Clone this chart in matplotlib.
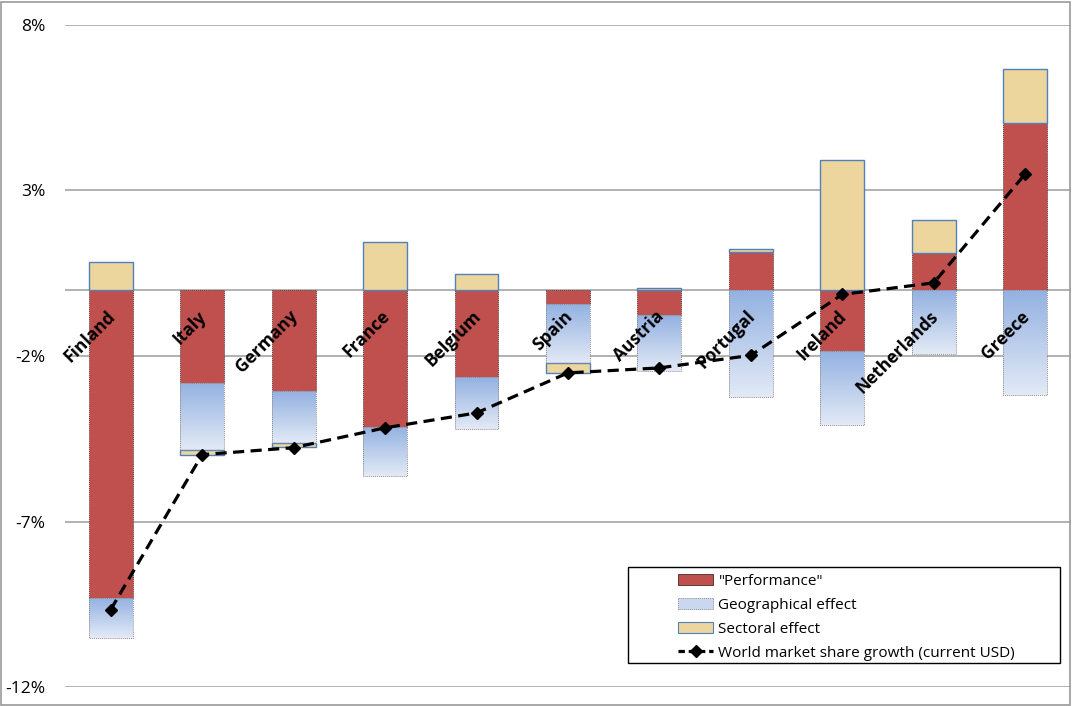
import matplotlib
matplotlib.use("Agg")
import matplotlib.pyplot as plt
import numpy as np
from matplotlib.patches import Patch, Rectangle
from matplotlib.lines import Line2D
from matplotlib.colors import LinearSegmentedColormap

countries = ["Finland", "Italy", "Germany", "France", "Belgium", "Spain",
             "Austria", "Portugal", "Ireland", "Netherlands", "Greece"]
performance = [-9.30, -2.81, -3.07, -4.14, -2.63, -0.44, -0.75, 1.14, -1.86, 1.11, 5.05]
geographical = [-1.21, -2.03, -1.55, -1.49, -1.57, -1.76, -1.69, -3.23, -2.22, -1.93, -3.17]
sectoral = [0.85, -0.16, -0.12, 1.44, 0.48, -0.30, 0.05, 0.10, 3.92, 1.01, 1.63]
market_share = [-9.66, -4.98, -4.77, -4.17, -3.72, -2.51, -2.36, -1.98, -0.14, 0.21, 3.50]
yticks = [-12, -7, -2, 3, 8]

plt.rcParams["font.family"] = ["Open Sans", "DejaVu Sans"]

W, H = 1072, 706
fig = plt.figure(figsize=(W / 100, H / 100), dpi=100)
ax = fig.add_axes([65 / W, 1 - 687 / H, 1 - 65 / W - 0.001, (687 - 25) / H])

x = np.arange(len(countries))
width = 0.48
red = "#C0504D"
sect_col = "#EDD69E"
blue_cmap = LinearSegmentedColormap.from_list("geo", ["#E3EAF6", "#93B1E1"])

pos_base = np.zeros(len(x))
neg_base = np.zeros(len(x))


def stack(values):
    vals = np.asarray(values, dtype=float)
    bottoms = np.where(vals >= 0, pos_base, neg_base)
    pos_base[:] = np.where(vals >= 0, pos_base + vals, pos_base)
    neg_base[:] = np.where(vals < 0, neg_base + vals, neg_base)
    return vals, bottoms


# "Performance" component
vals, bots = stack(performance)
ax.bar(x, vals, width, bottom=bots, color=red, edgecolor="#5a3a3a",
       linewidth=0.7, linestyle=(0, (1, 1)), zorder=3)

# Geographical component with a vertical gradient fill
vals, bots = stack(geographical)
grad = np.linspace(0, 1, 256).reshape(-1, 1)
geo_bars = ax.bar(x, vals, width, bottom=bots, facecolor="none",
                  edgecolor="#8a8a8a", linewidth=0.7, linestyle=(0, (1, 1)), zorder=4)
for b in geo_bars:
    x0, y0 = b.get_x(), b.get_y()
    w, h = b.get_width(), b.get_height()
    lo, hi = min(y0, y0 + h), max(y0, y0 + h)
    im = ax.imshow(grad, extent=[x0, x0 + w, lo, hi], origin="lower",
                   cmap=blue_cmap, aspect="auto", zorder=3)
    im.set_clip_path(b)

# Sectoral component
vals, bots = stack(sectoral)
ax.bar(x, vals, width, bottom=bots, color=sect_col, edgecolor="#4F81BD",
       linewidth=1.0, zorder=3)

# World market share growth
ax.plot(x, market_share, color="black", linestyle=(0, (3.5, 2)), linewidth=2.3,
        marker="D", markersize=6.5, zorder=6)

ax.set_xlim(-0.5, len(x) - 0.5)
ax.set_ylim(-12, 8)
ax.set_yticks(yticks)
ax.set_yticklabels([f"{v}%" for v in yticks], fontsize=12.5)
ax.tick_params(axis="y", length=0, pad=14)
ax.set_xticks([])
for s in ax.spines.values():
    s.set_visible(False)
ax.yaxis.grid(True, color="#ABABAB", linewidth=1.3, zorder=0)
ax.set_axisbelow(True)
ax.axhline(0, color="#ABABAB", linewidth=1.3, zorder=1)

for i, name in enumerate(countries):
    ax.text(i + 0.02, -0.72, name, rotation=45, rotation_mode="anchor",
            ha="right", va="center", fontsize=12.5, fontweight="bold", zorder=7)

handles = [
    Patch(facecolor=red, edgecolor="#5a3a3a", linewidth=0.7),
    Patch(facecolor="#C9D7EF", edgecolor="#8a8a8a", linewidth=0.7, linestyle=(0, (1, 1))),
    Patch(facecolor=sect_col, edgecolor="#4F81BD", linewidth=0.8),
    Line2D([0], [0], color="black", linestyle=(0, (2, 1.2)), linewidth=2.3,
           marker="D", markersize=6),
]
labels = ['"Performance"', "Geographical effect", "Sectoral effect",
          "World market share growth (current USD)"]
leg = fig.legend(handles, labels, loc="upper left",
                 bbox_to_anchor=(678 / W, 1 - 574 / H), bbox_transform=fig.transFigure,
                 fontsize=11, frameon=False, handlelength=2.3, handleheight=0.7,
                 borderpad=0, labelspacing=0.58, handletextpad=0.35, borderaxespad=0)
leg.set_zorder(10)

# Legend box
fig.patches.append(Rectangle((628 / W, 1 - 663 / H), (1060 - 628) / W, (663 - 567) / H,
                             transform=fig.transFigure, facecolor="white",
                             edgecolor="black", linewidth=1.0, zorder=9))

# Chart border
fig.patches.append(Rectangle((0.0005, 0.001), 0.998, 0.996, transform=fig.transFigure,
                             fill=False, edgecolor="#9A9A9A", linewidth=1.2))

fig.savefig("out.png", dpi=100)
